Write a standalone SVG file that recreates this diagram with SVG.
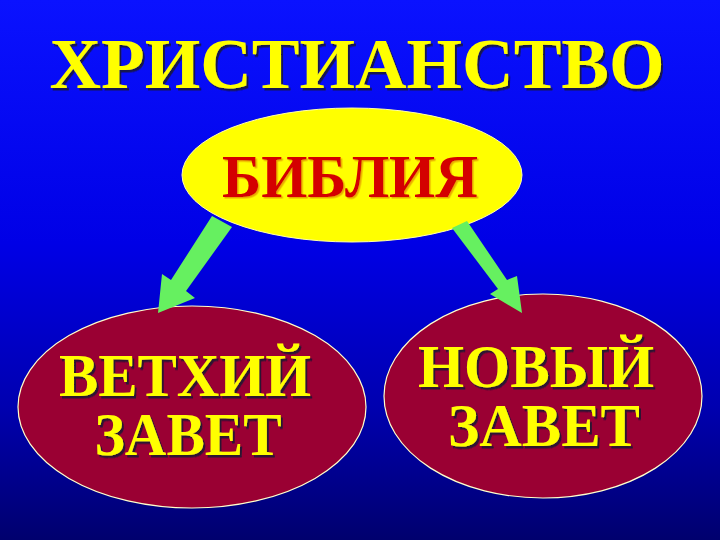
<svg xmlns="http://www.w3.org/2000/svg" width="720" height="540" viewBox="0 0 720 540">
  <defs>
    <linearGradient id="bg" x1="0" y1="0" x2="0" y2="1">
      <stop offset="0" stop-color="#0a12ff"/>
      <stop offset="0.45" stop-color="#0000e6"/>
      <stop offset="0.75" stop-color="#0000b0"/>
      <stop offset="1" stop-color="#00006e"/>
    </linearGradient>
    <filter id="sh" x="-10%" y="-20%" width="120%" height="140%">
      <feDropShadow dx="2" dy="2.5" stdDeviation="0.4" flood-color="#141432" flood-opacity="0.85"/>
    </filter>
    <filter id="shLight" x="-10%" y="-20%" width="120%" height="140%">
      <feDropShadow dx="1.5" dy="1.5" stdDeviation="0.3" flood-color="#e8a000" flood-opacity="0.9"/>
    </filter>
  </defs>
  <style>
    .t { font-family: "Liberation Serif", "DejaVu Serif", serif; font-weight: bold; text-anchor: middle; }
    .yel { fill: #ffff00; filter: url(#sh); }
    .red { fill: #d40000; filter: url(#shLight); }
    .testament { fill: #9a0033; stroke: #ffffcc; stroke-width: 1.2; }
    .arrow { fill: #66f060; }
  </style>
  <rect x="0" y="0" width="720" height="540" fill="url(#bg)"/>

  <g id="title">
    <text class="t yel" x="357" y="88" font-size="72" textLength="615" lengthAdjust="spacingAndGlyphs">ХРИСТИАНСТВО</text>
  </g>

  <g id="bible">
    <ellipse cx="352" cy="175" rx="170" ry="67" fill="#ffff00" stroke="#ffffaa" stroke-width="1"/>
    <text class="t red" x="350" y="197" font-size="62" textLength="256" lengthAdjust="spacingAndGlyphs">БИБЛИЯ</text>
  </g>

  <g id="old-testament">
    <ellipse class="testament" cx="192" cy="407" rx="174" ry="101"/>
    <text class="t yel" x="185" y="396" font-size="62" textLength="252" lengthAdjust="spacingAndGlyphs">ВЕТХИЙ</text>
    <text class="t yel" x="188" y="455" font-size="62" textLength="187" lengthAdjust="spacingAndGlyphs">ЗАВЕТ</text>
  </g>

  <g id="new-testament">
    <ellipse class="testament" cx="543" cy="396" rx="159" ry="102"/>
    <text class="t yel" x="536" y="387" font-size="62" textLength="236" lengthAdjust="spacingAndGlyphs">НОВЫЙ</text>
    <text class="t yel" x="544" y="446" font-size="62" textLength="192" lengthAdjust="spacingAndGlyphs">ЗАВЕТ</text>
  </g>

  <g id="connectors">
    <polygon class="arrow" points="212,216 232,227 186,291 195,298 158,313 162,274 171,280"/>
    <polygon class="arrow" points="452,228 467,221 507,280 517,276 522,313 490,294 498,289"/>
  </g>
</svg>
